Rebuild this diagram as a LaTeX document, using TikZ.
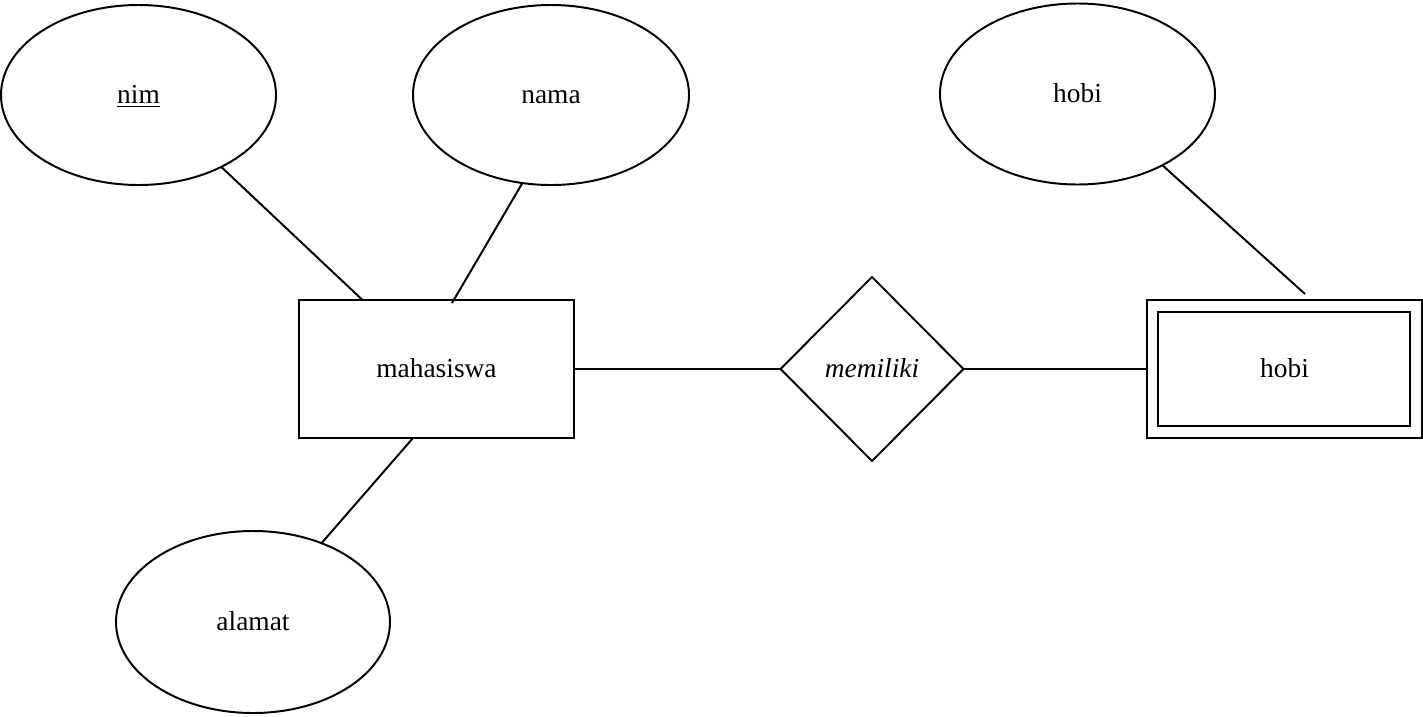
\documentclass[tikz,border=0pt]{standalone}
\usepackage{fontspec}
\setmainfont{Liberation Serif}
\usetikzlibrary{shapes.geometric,calc}
\begin{document}
\begin{tikzpicture}[x=0.025cm,y=-0.025cm,
  every node/.style={font=\fontsize{19.5}{23}\selectfont, inner sep=0pt, outer sep=0pt, text height=12.6pt, text depth=0pt},
  attr/.style={draw, ellipse, line width=1.4pt},
  entity/.style={draw, rectangle, line width=1.4pt},
  rel/.style={draw, diamond, aspect=1, line width=1.4pt},
  conn/.style={line width=1.4pt}]
\useasboundingbox (0,0) rectangle (1423,717);
\node[attr, minimum width=275*0.025cm, minimum height=180*0.025cm] (nim) at (138.5,95) {\underline{nim}};
\node[attr, minimum width=276*0.025cm, minimum height=180*0.025cm] (nama) at (551,95) {nama};
\node[attr, minimum width=275*0.025cm, minimum height=181*0.025cm] (hobiattr) at (1077.5,94) {hobi};
\node[attr, minimum width=274*0.025cm, minimum height=182*0.025cm] (alamat) at (253,622) {alamat};
\node[entity, minimum width=275*0.025cm, minimum height=138*0.025cm] (maha) at (436.5,369) {mahasiswa};
\node[rel, minimum width=183*0.025cm, minimum height=184*0.025cm] (memiliki) at (872,369) {\itshape memiliki};
\node[entity, minimum width=275*0.025cm, minimum height=138*0.025cm] (hobi) at (1284.5,369) {hobi};
\node[entity, minimum width=252*0.025cm, minimum height=114*0.025cm] (hobiin) at (1284,369) {};
\coordinate (namaend) at ($(maha.north)+(15.5,3)$);
\coordinate (alamatstart) at ($(maha.south)+(-23.5,0)$);
\coordinate (hobiend) at ($(hobi.north)+(20.5,-6)$);
\draw[conn] (nim.-41.7) -- (maha.137);
\draw[conn] (nama.-108.8) -- (namaend);
\draw[conn] (alamatstart) -- (alamat.49.2);
\draw[conn] (maha.east) -- (memiliki.west);
\draw[conn] (memiliki.east) -- (hobi.west);
\draw[conn] (hobiattr.-40.4) -- (hobiend);
\end{tikzpicture}
\end{document}
